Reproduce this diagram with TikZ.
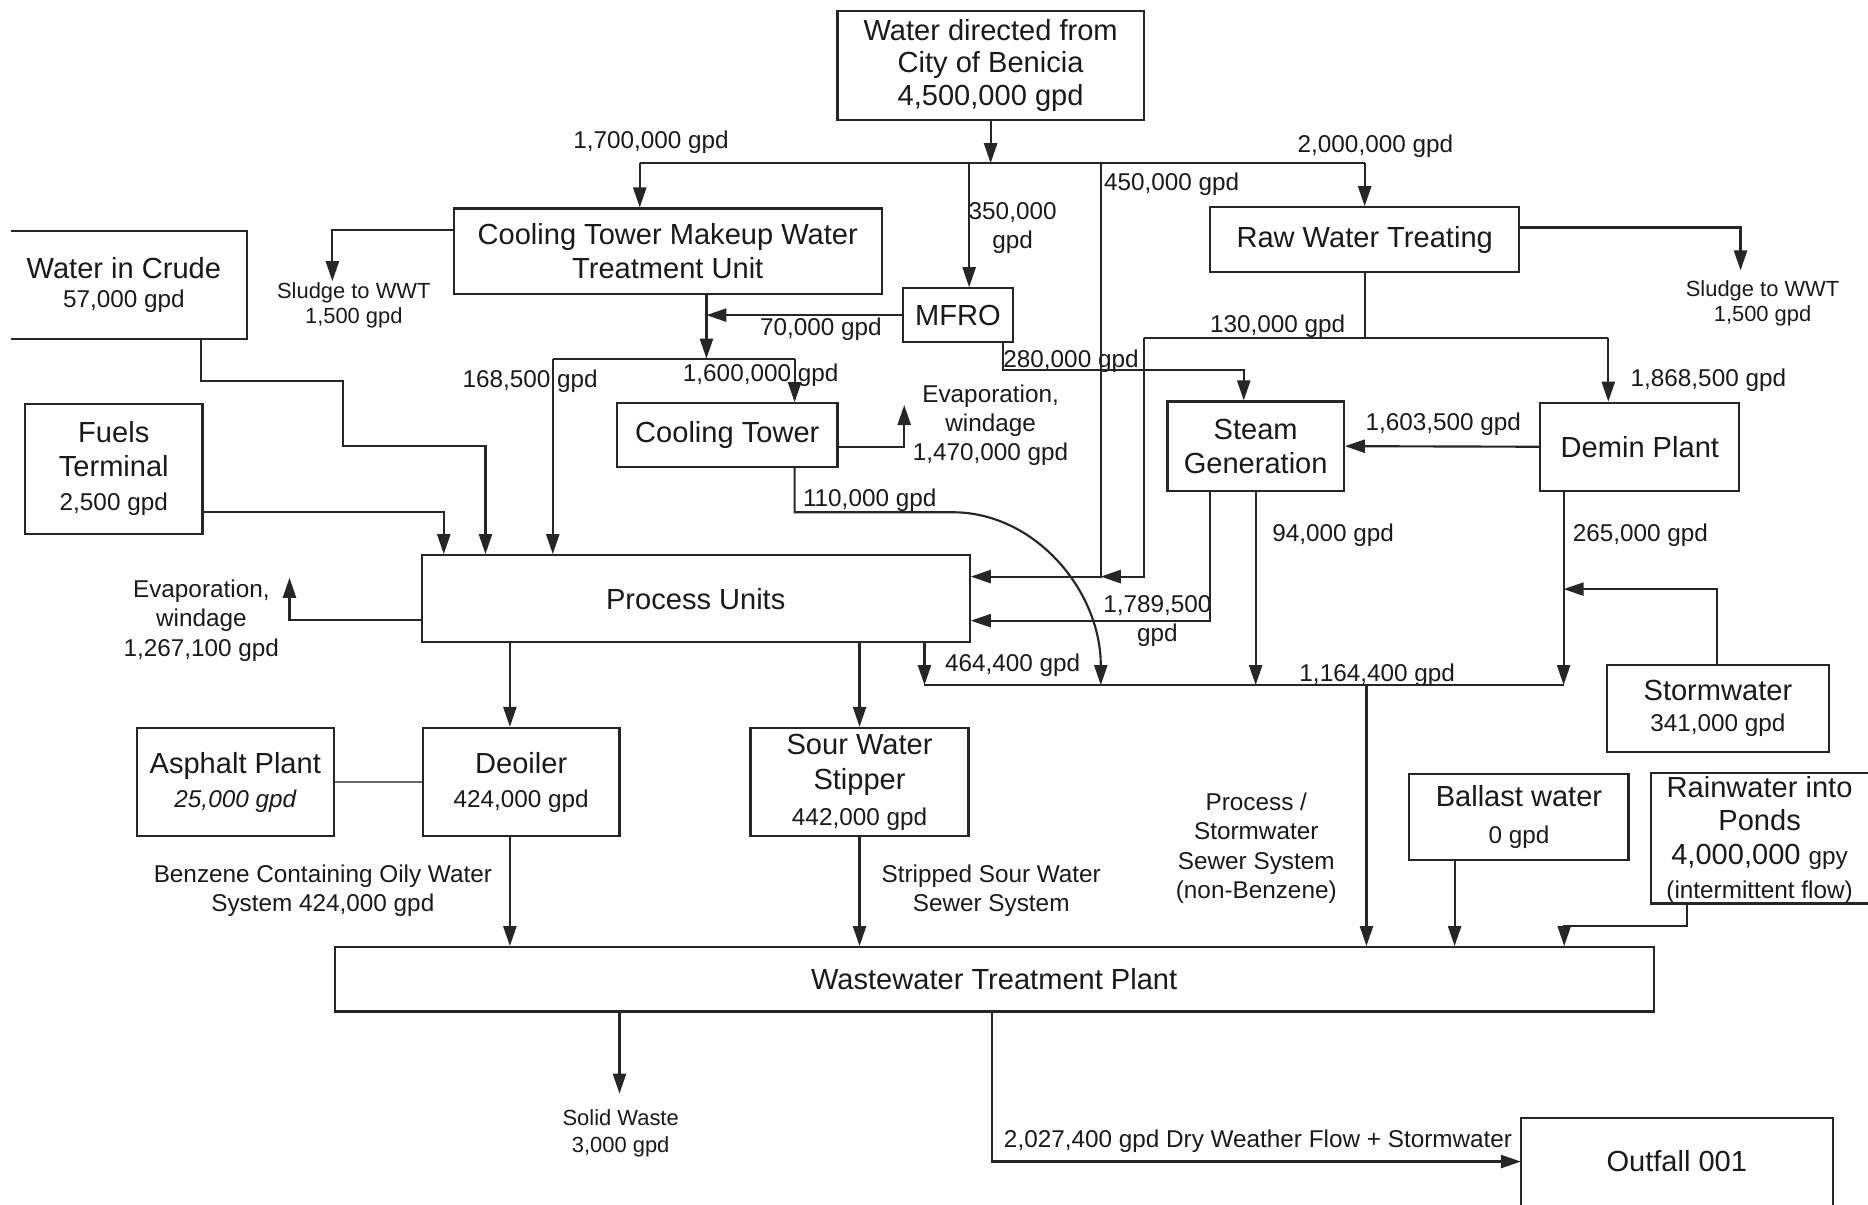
\documentclass[tikz,border=0pt]{standalone}
\usepackage{fontspec}
\setmainfont{Liberation Sans}
\usetikzlibrary{arrows.meta,calc}
\definecolor{ink}{HTML}{262626}
\definecolor{txt}{HTML}{1A1A1A}
\newcommand\bigf{\fontsize{12.2}{14.2}\selectfont}
\newcommand\medf{\fontsize{10.2}{12.2}\selectfont}
\newcommand\smf{\fontsize{9.2}{10.6}\selectfont}
\tikzset{
  box/.style={draw=ink, line width=0.9pt, rectangle, inner sep=0pt, align=center, text=txt, font=\bigf},
  openbox/.style={draw=none, rectangle, inner sep=0pt, align=center, text=txt, font=\bigf},
  lbl/.style={inner sep=0pt, align=center, text=txt, font=\medf},
  slbl/.style={inner sep=0pt, align=center, text=txt, font=\smf},
  pipe/.style={draw=ink, line width=0.9pt},
  flow/.style={draw=ink, line width=0.9pt, -{Triangle[length=8.4pt,width=5.5pt]}},
}
\begin{document}
\begin{tikzpicture}[x=0.5pt,y=-0.5pt]
\fill[white] (0,0) rectangle (1568,1011);
\useasboundingbox (0,0) rectangle (1568,1011);

% ---------- boxes ----------
\node[box, minimum width=128.5pt, minimum height=45.75pt] (city) at (831.5,55.25)
  {\raisebox{-1pt}{Water directed from}\\City of Benicia\\4,500,000 gpd};
\node[box, minimum width=179.5pt, minimum height=36pt] (ctm) at (560.5,211)
  {Cooling Tower Makeup Water\\Treatment Unit};
\node[openbox, minimum width=103pt, minimum height=45pt] (crude) at (104,239)
  {Water in Crude\\[-2pt]{\medf 57,000 gpd}};
\node[box, minimum width=74.5pt, minimum height=54.5pt] (fuels) at (95.5,393.5)
  {Fuels\\Terminal\\{\medf 2,500 gpd}};
\node[box, minimum width=46pt, minimum height=22.5pt] (mfro) at (804,264.5) {MFRO};
\node[box, minimum width=129.5pt, minimum height=27.25pt] (rwt) at (1145.5,201.25) {Raw Water Treating};
\node[box, minimum width=92.5pt, minimum height=26.75pt] (ct) at (610.5,365.25) {Cooling Tower};
\node[box, minimum width=74pt, minimum height=37.5pt] (steam) at (1054,374.5) {Steam\\Generation};
\node[box, minimum width=83.5pt, minimum height=37pt] (demin) at (1376.5,375) {Demin Plant};
\node[box, minimum width=230pt, minimum height=36.5pt] (proc) at (584,502.5) {Process Units};
\node[box, minimum width=82.5pt, minimum height=45.5pt] (asphalt) at (197.5,656.5)
  {Asphalt Plant\\{\medf\itshape 25,000 gpd}};
\node[box, minimum width=82.5pt, minimum height=45.5pt] (deoiler) at (437.5,656.5)
  {Deoiler\\{\medf 424,000 gpd}};
\node[box, minimum width=91.5pt, minimum height=45.5pt] (sws) at (721.5,656.5)
  {Sour Water\\[0.6pt]Stipper\\[0.8pt]{\medf 442,000 gpd}};
\node[box, minimum width=93pt, minimum height=36.5pt] (storm) at (1442,594.5)
  {Stormwater\\[-1pt]{\medf 341,000 gpd}};
\node[box, minimum width=92pt, minimum height=36pt] (ballast) at (1275,686)
  {Ballast water\\[1.3pt]{\medf 0 gpd}};
\node[openbox, minimum width=91pt, minimum height=54.5pt] (rain) at (1477,705)
  {Rainwater into\\Ponds\\4,000,000 {\medf gpy}\\{\medf (intermittent flow)}};
\node[box, minimum width=553.5pt, minimum height=27pt] (wwtp) at (834.5,822) {Wastewater Treatment Plant};
\node[openbox, minimum width=130.5pt, minimum height=36pt] (outfall) at (1407.5,975) {Outfall 001};

% open-sided boxes (cut by the picture edge)
\draw[pipe] ($(crude.north west)+(9,0)$) -- (crude.north east) -- (crude.south east) -- ($(crude.south west)+(9,0)$);
\draw[pipe] ($(rain.north east)+(0,-1.5)$) -- ($(rain.north west)+(0,-1.5)$) -- ($(rain.south west)+(0,-1.5)$) -- ($(rain.south east)+(0,-1.5)$);
\draw[pipe] (outfall.south west) -- (outfall.north west) -- (outfall.north east) -- (outfall.south east);

% ---------- labels ----------
\node[lbl] (l1700) at (546.5,119) {1,700,000 gpd};
\node[lbl] (l350) at (850,191.5) {350,000\\gpd};
\node[lbl] (l450) at (983.5,155) {450,000 gpd};
\node[lbl] (l2000) at (1154.5,123) {2,000,000 gpd};
\node[slbl] (sludgeL) at (297,256.5) {Sludge to WWT\\1,500 gpd};
\node[slbl] (sludgeR) at (1479.5,254.5) {Sludge to WWT\\1,500 gpd};
\node[lbl] (l70) at (689,276) {70,000 gpd};
\node[lbl] (l168) at (445,320) {168,500 gpd};
\node[lbl] (l1600) at (638.5,315) {1,600,000 gpd};
\node[lbl] (l280) at (899,303) {280,000 gpd};
\node[lbl] (l130) at (1072.5,274) {130,000 gpd};
\node[lbl] (l1868) at (1434,319) {1,868,500 gpd};
\node[lbl] (l1603) at (1211.5,356.5) {1,603,500 gpd};
\node[lbl] (evapCT) at (831.5,357) {Evaporation,\\windage\\1,470,000 gpd};
\node[lbl] (l110) at (730,420) {110,000 gpd};
\node[lbl] (evapP) at (169,521) {Evaporation,\\windage\\1,267,100 gpd};
\node[lbl] (l94) at (1119,449) {94,000 gpd};
\node[lbl] (l265) at (1377,449) {265,000 gpd};
\node[lbl] (l1789) at (971.5,521.5) {1,789,500\\gpd};
\node[lbl] (l464) at (850,558) {464,400 gpd};
\node[lbl] (l1164) at (1156,566.5) {1,164,400 gpd};
\node[lbl] (benz) at (271,748) {Benzene Containing Oily Water\\System 424,000 gpd};
\node[lbl] (strip) at (832,748) {Stripped Sour Water\\Sewer System};
\node[lbl] (psw) at (1054.5,712) {Process /\\Stormwater\\Sewer System\\(non-Benzene)};
\node[slbl] (solid) at (521,951.5) {Solid Waste\\[0.9pt]3,000 gpd};
\node[lbl] (l2027) at (1056,958) {2,027,400 gpd Dry Weather Flow + Stormwater};

% ---------- coordinates ----------
\coordinate (jc) at (831.5,137);
\coordinate (jl) at (537,137);
\coordinate (jr) at (1145.5,137);
\coordinate (j350) at (813.5,137);
\coordinate (j450) at (924,137);
\coordinate (m484) at (924,484);
\coordinate (h130l) at (960,283.5);
\coordinate (h130r) at (1350,283.5);
\coordinate (h130d) at (960,484);
\coordinate (sr) at (1461,191);
\coordinate (srt) at (1461,227);
\coordinate (sl) at (279,193);
\coordinate (slt) at (279,236);
\coordinate (v593) at (593,264.5);
\coordinate (h301) at (593,301);
\coordinate (hl) at (464,301);
\coordinate (hr) at (667,301);
\coordinate (m280) at (842,310.5);
\coordinate (s280) at (1044,310.5);
\coordinate (ev1) at (759,375);
\coordinate (ev1t) at (759,340);
\coordinate (c110) at (667,430);
\coordinate (c110b) at (800,430);
\coordinate (cend) at (924,575);
\coordinate (cr1) at (169,320);
\coordinate (cr2) at (288,320);
\coordinate (cr3) at (288,374.5);
\coordinate (cr4) at (407.5,374.5);
\coordinate (fu) at (372.5,429.5);
\coordinate (pe) at (243,520.5);
\coordinate (pet) at (243,485);
\coordinate (s17) at (1016,521);
\coordinate (s94) at (1054,575);
\coordinate (d265) at (1312.5,575);
\coordinate (st) at (1441,494.5);
\coordinate (c464) at (776,575);
\coordinate (c1147) at (1147,575);
\coordinate (pd) at (428,539);
\coordinate (b1) at (1221,722);
\coordinate (r1) at (1416,777);
\coordinate (r2) at (1313,777);
\coordinate (sw) at (520,918);
\coordinate (o1) at (833,975);

% ---------- connectors ----------
\draw[flow] (city.south) -- (jc);
\draw[pipe] (jl) -- (jr);
\draw[flow] (jl) -- (jl |- ctm.north);
\draw[flow] (j350) -- (j350 |- mfro.north);
\draw[flow] (j450) -- (m484) -- (m484 -| proc.east);
\draw[flow] (jr) -- (rwt.north);
\draw[pipe] (rwt.south) -- (rwt.south |- h130l);
\draw[pipe] (h130l) -- (h130r);
\draw[flow] (h130r) -- (h130r |- demin.north);
\draw[flow] (h130l) -- (h130d) -- (m484);
\draw[flow] (rwt.east |- sr) -- (sr) -- (srt);
\draw[flow] (ctm.west |- sl) -- (sl) -- (slt);
\draw[flow] (mfro.west) -- (v593);
\draw[flow] (v593 |- ctm.south) -- (h301);
\draw[pipe] (hl) -- (hr);
\draw[flow] (hr) -- (hr |- ct.north);
\draw[flow] (hl) -- (hl |- proc.north);
\draw[flow] (m280 |- mfro.south) -- (m280) -- (s280) -- (s280 |- steam.north);
\draw[flow] (ct.east |- ev1) -- (ev1) -- (ev1t);
\draw[flow] (c110 |- ct.south) -- (c110) -- (c110b) .. controls (868,430) and (924,495) .. (cend);
\draw[flow] (cr1 |- crude.south) -- (cr1) -- (cr2) -- (cr3) -- (cr4) -- (cr4 |- proc.north);
\draw[flow] (fuels.east |- fu) -- (fu) -- (fu |- proc.north);
\draw[flow] (proc.west |- pe) -- (pe) -- (pet);
\draw[flow] (s17 |- steam.south) -- (s17) -- (s17 -| proc.east);
\draw[flow] (steam.south) -- (s94);
\draw[flow] (demin.west) -- (steam.east);
\draw[flow] (d265 |- demin.south) -- (d265);
\draw[flow] (st |- storm.north) -- (st) -- (st -| d265);
\draw[pipe] (c464) -- (d265);
\draw[flow] (c464 |- proc.south) -- (c464);
\draw[flow] (c1147) -- (c1147 |- wwtp.north);
\draw[flow] (pd) -- (pd |- deoiler.north);
\draw[flow] (sws.north |- proc.south) -- (sws.north);
\draw[draw=ink!70, line width=0.55pt] (asphalt.east) -- (deoiler.west);
\draw[flow] (pd |- deoiler.south) -- (pd |- wwtp.north);
\draw[flow] (sws.south) -- (sws.south |- wwtp.north);
\draw[flow] (b1 |- ballast.south) -- (b1 |- wwtp.north);
\draw[flow] ($(r1 |- rain.south)+(0,-1.5)$) -- (r1) -- (r2) -- (r2 |- wwtp.north);
\draw[flow] (sw |- wwtp.south) -- (sw);
\draw[flow] (o1 |- wwtp.south) -- (o1) -- (o1 -| outfall.west);
\end{tikzpicture}
\end{document}
